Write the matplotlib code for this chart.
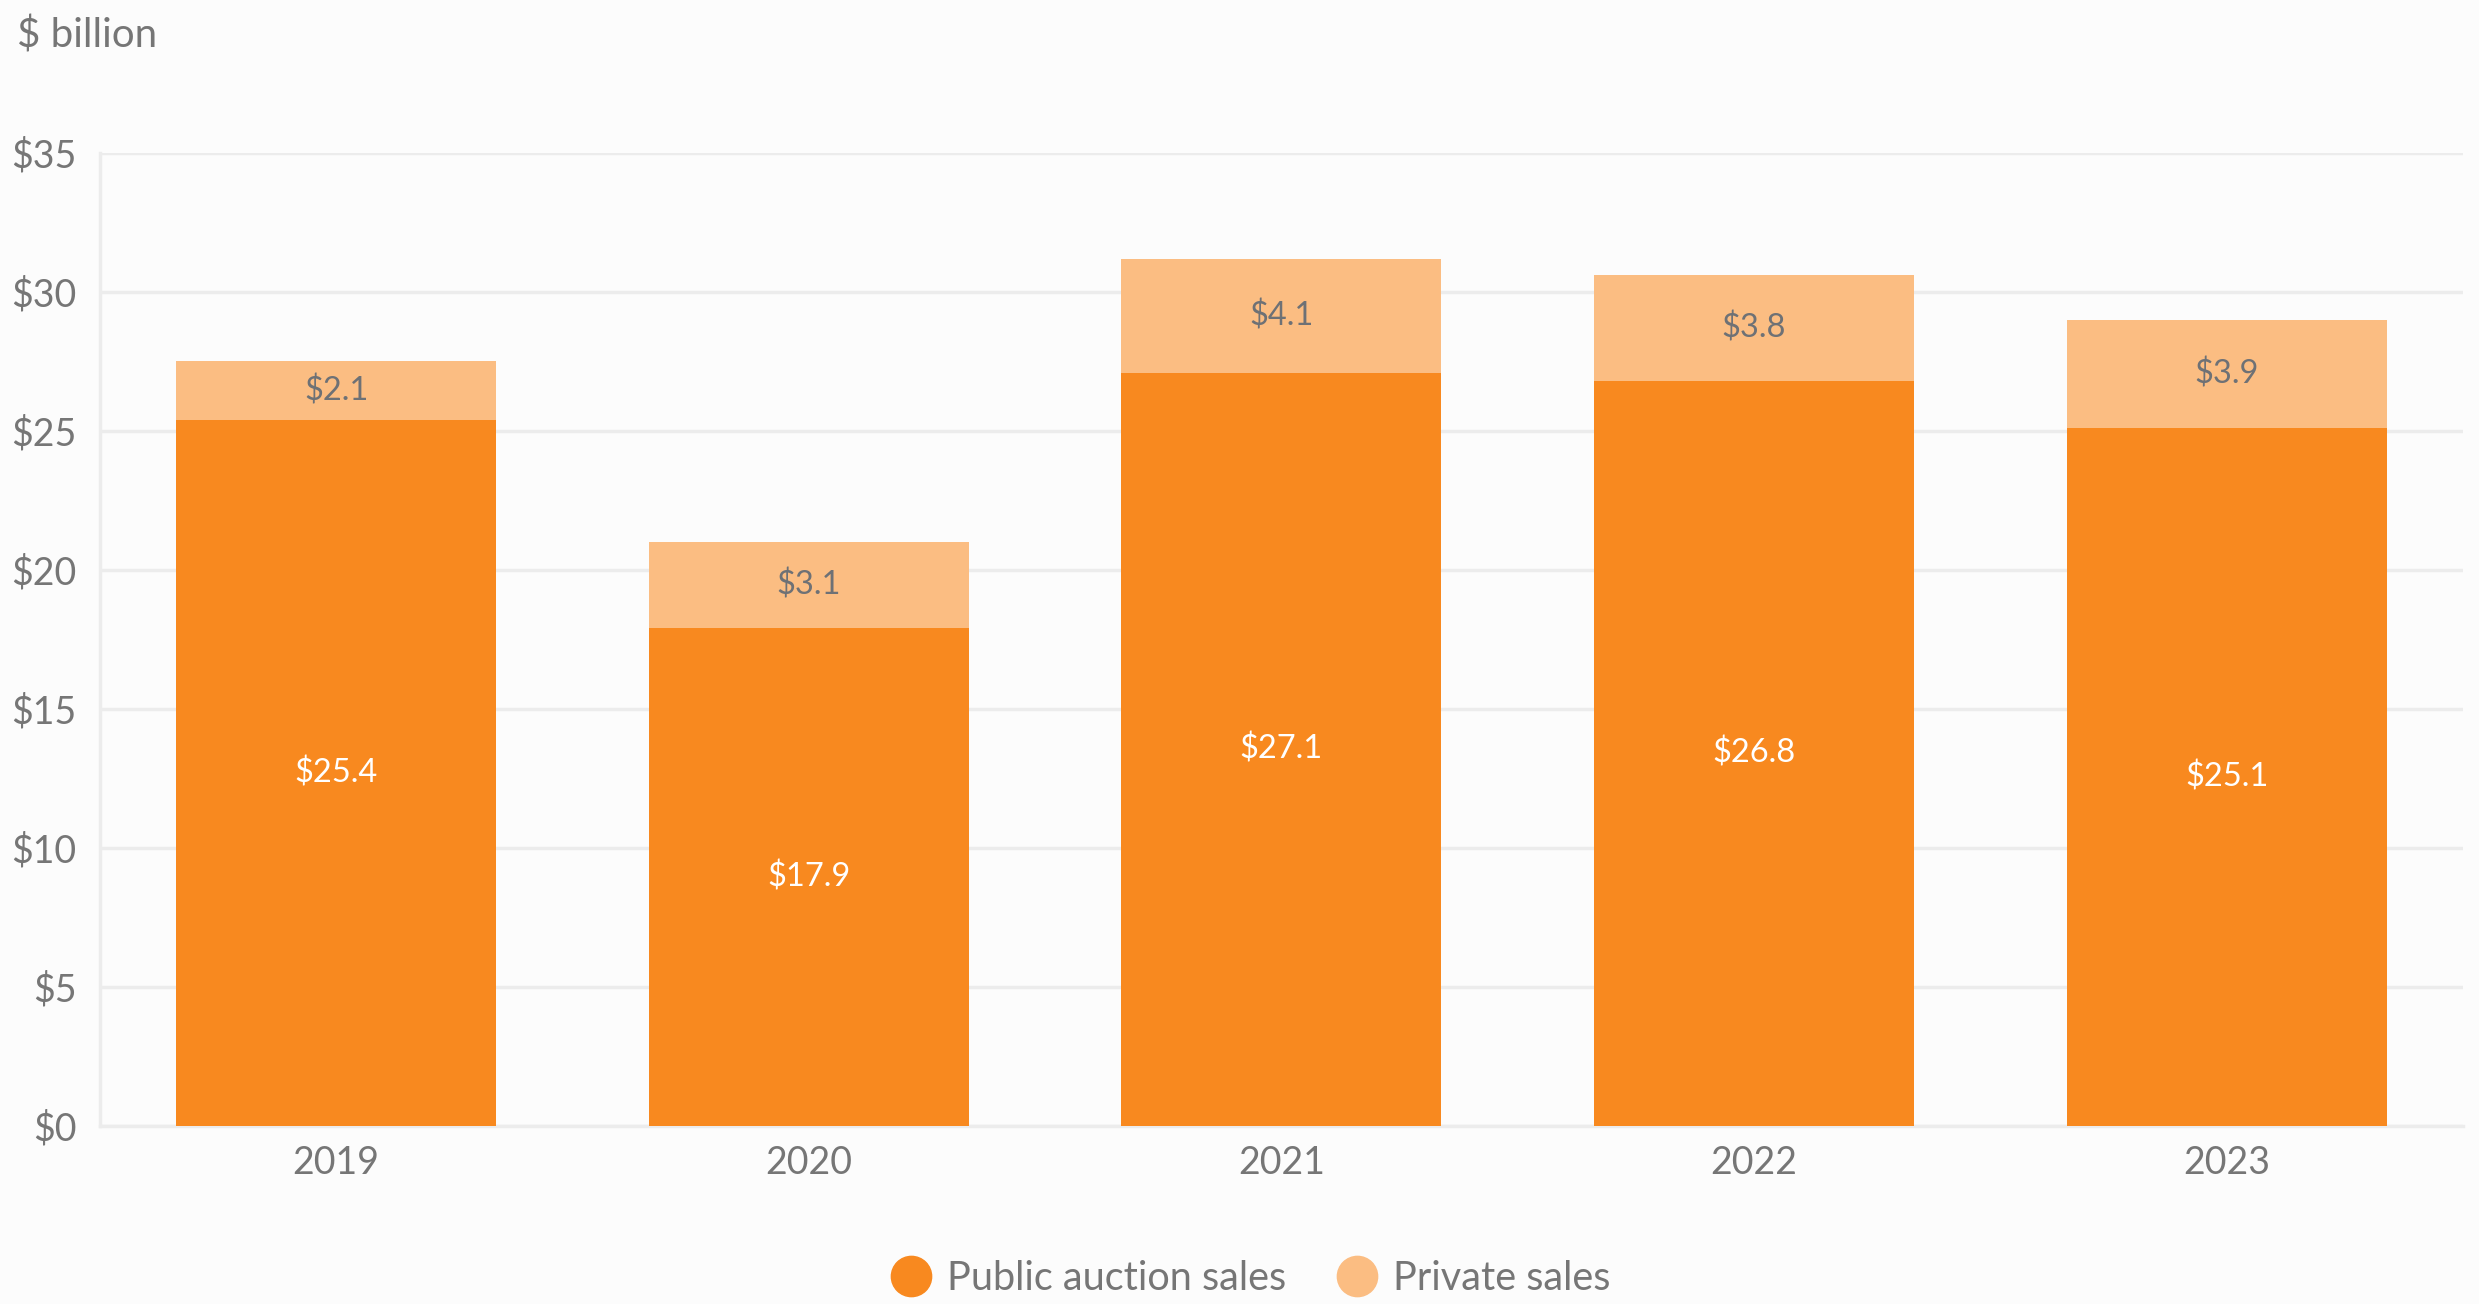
import numpy as np
import matplotlib.pyplot as plt
from matplotlib.lines import Line2D

years = ["2019", "2020", "2021", "2022", "2023"]
public_sales = [25.4, 17.9, 27.1, 26.8, 25.1]
private_sales = [2.1, 3.1, 4.1, 3.8, 3.9]
yticks = [0, 5, 10, 15, 20, 25, 30, 35]

c_public = "#F8891F"
c_private = "#FBBD82"
c_text = "#767676"
c_grid = "#ECECEC"
bg = "#FCFCFC"

plt.rcParams['font.family'] = ['Lato', 'DejaVu Sans']

fig = plt.figure(figsize=(24.79, 13.04), dpi=100, facecolor=bg)
ax = fig.add_axes([0.0403, 0.1365, 0.9532, 0.7462], facecolor=bg)

x = np.arange(len(years))
w = 0.677
ax.bar(x, public_sales, w, color=c_public, zorder=3)
ax.bar(x, private_sales, w, bottom=public_sales, color=c_private, zorder=3)

# value labels
for i in range(len(years)):
    ax.text(x[i], public_sales[i] / 2, f"${public_sales[i]}", ha='center', va='center',
            color='white', fontsize=23.5, zorder=4)
    ax.text(x[i], public_sales[i] + private_sales[i] / 2, f"${private_sales[i]}",
            ha='center', va='center', color="#6E7175", fontsize=23.5, zorder=4)

ax.set_xlim(-0.5, len(years) - 0.5)
ax.set_ylim(0, 35)
ax.set_yticks(yticks)
ax.set_yticklabels([f"${t}" for t in yticks])
ax.set_xticks(x)
ax.set_xticklabels(years)
ax.tick_params(axis='both', length=0, labelsize=27, labelcolor=c_text)
ax.tick_params(axis='y', pad=17)
ax.tick_params(axis='x', pad=14)
ax.grid(axis='y', color=c_grid, linewidth=2.5, zorder=0)

for s in ['top', 'right']:
    ax.spines[s].set_visible(False)
for s in ['left', 'bottom']:
    ax.spines[s].set_color(c_grid)
    ax.spines[s].set_linewidth(2.5)

fig.text(17 / 2479, 1 - 35 / 1304, "$ billion", ha='left', va='center',
         fontsize=29, color=c_text)

handles = [
    Line2D([], [], marker='o', linestyle='none', markersize=29, color=c_public),
    Line2D([], [], marker='o', linestyle='none', markersize=29, color=c_private),
]
fig.legend(handles, ["Public auction sales", "Private sales"], loc='center',
           bbox_to_anchor=(1249 / 2479, 1 - 1278 / 1304), ncol=2, frameon=False,
           fontsize=28.5, labelcolor=c_text, handletextpad=0.3, columnspacing=1.2,
           handlelength=1.2)

fig.savefig("out.png", dpi=100, facecolor=bg)
